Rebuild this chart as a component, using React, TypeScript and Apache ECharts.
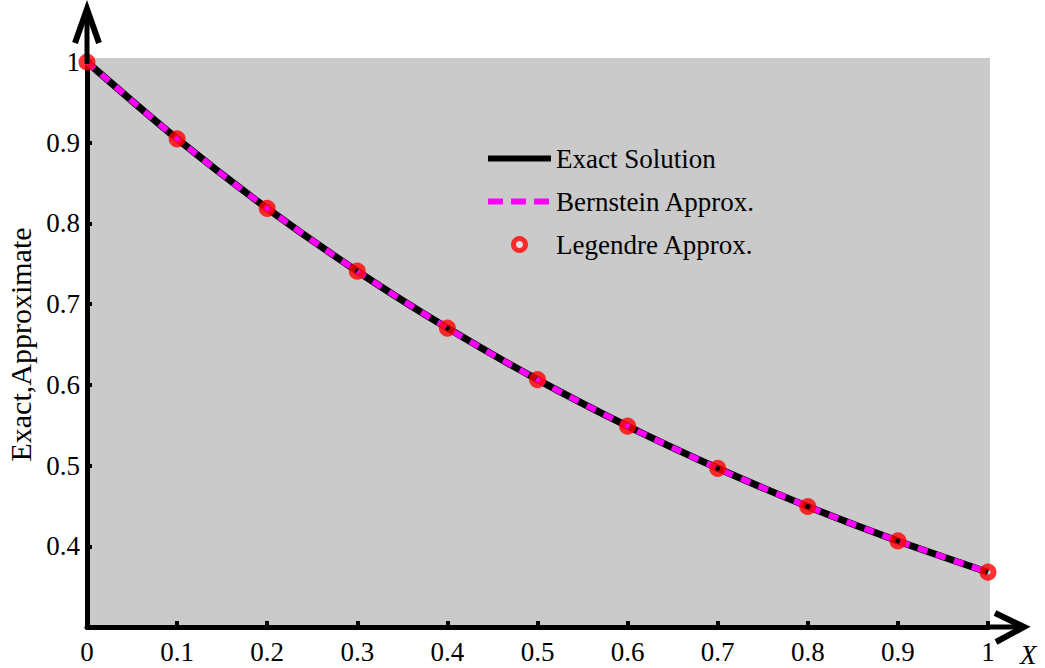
import React, { useEffect, useRef } from "react";
import * as echarts from "echarts";

// Sample points x = 0 .. 1 in steps of 0.1
const xValues = [0, 0.1, 0.2, 0.3, 0.4, 0.5, 0.6, 0.7, 0.8, 0.9, 1];
const exactValues = [1, 0.9048, 0.8187, 0.7408, 0.6703, 0.6065, 0.5488, 0.4966, 0.4493, 0.4066, 0.3679];
const bernsteinValues = [1, 0.9048, 0.8187, 0.7408, 0.6703, 0.6065, 0.5488, 0.4966, 0.4493, 0.4066, 0.3679];
const legendreValues = [1, 0.9048, 0.8187, 0.7408, 0.6703, 0.6065, 0.5488, 0.4966, 0.4493, 0.4066, 0.3679];

const seriesNames = ["Exact Solution", "Bernstein Approx.", "Legendre Approx."];
const xAxisName = "X";
const yAxisName = "Exact,Approximate";

const SERIF = "'Liberation Serif', 'Times New Roman', serif";

const pairs = (ys: number[]) => xValues.map((x, i) => [x, ys[i]]);

const hiddenSymbol = { color: "rgba(0,0,0,0)", borderWidth: 0, opacity: 0 };

export default function App() {
  const ref = useRef<HTMLDivElement>(null);

  useEffect(() => {
    document.body.style.margin = "0";
    if (!ref.current) return;
    const chart = echarts.init(ref.current, undefined, { renderer: "svg" });

    const option: any = {
      animation: false,
      backgroundColor: "#ffffff",
      grid: {
        left: 87,
        right: 57,
        top: 62,
        bottom: 41,
        containLabel: false,
        outerBoundsMode: "none",
      },
      graphic: [
        // plot background
        {
          type: "rect",
          z: -10,
          shape: { x: 87, y: 58, width: 903, height: 569 },
          style: { fill: "#cacaca" },
        },
        // y-axis extension and arrow head
        {
          type: "line",
          z: 10,
          shape: { x1: 87, y1: 64, x2: 87, y2: 10 },
          style: { stroke: "#000", lineWidth: 5 },
        },
        {
          type: "polyline",
          z: 10,
          shape: { points: [[75, 43], [87, 9], [99, 43]] },
          style: { stroke: "#000", lineWidth: 6, fill: null, lineJoin: "miter" },
        },
        // x-axis extension and arrow head
        {
          type: "line",
          z: 10,
          shape: { x1: 986, y1: 627, x2: 1020, y2: 627 },
          style: { stroke: "#000", lineWidth: 5 },
        },
        {
          type: "polyline",
          z: 10,
          shape: { points: [[995, 613], [1024, 627], [996, 642]] },
          style: { stroke: "#000", lineWidth: 6, fill: null, lineJoin: "miter" },
        },
      ],
      legend: {
        orient: "vertical",
        left: 485,
        top: 145,
        padding: 0,
        itemWidth: 63,
        itemHeight: 12,
        itemGap: 16,
        textStyle: { fontFamily: SERIF, fontSize: 27, lineHeight: 27, color: "#000" },
        data: [
          {
            name: seriesNames[0],
            itemStyle: hiddenSymbol,
            lineStyle: { color: "#000", width: 6, type: "solid" },
          },
          {
            name: seriesNames[1],
            itemStyle: hiddenSymbol,
            lineStyle: { color: "#ff00ff", width: 6, type: [15, 8] },
          },
          {
            name: seriesNames[2],
            icon: "circle",
            itemStyle: { color: "#e6e6e6", borderColor: "#ff0000", borderWidth: 5 },
          },
        ],
      },
      xAxis: {
        type: "value",
        min: 0,
        max: 1,
        interval: 0.1,
        name: xAxisName,
        nameLocation: "end",
        nameGap: 32,
        nameTextStyle: {
          fontFamily: SERIF,
          fontSize: 27,
          fontStyle: "italic",
          color: "#000",
          align: "left",
          verticalAlign: "top",
          padding: [14, 0, 0, 0],
        },
        axisLine: { show: true, lineStyle: { color: "#000", width: 5 } },
        axisTick: { show: true, inside: true, length: 6, lineStyle: { color: "#000", width: 4 } },
        axisLabel: { fontFamily: SERIF, fontSize: 27, color: "#000", margin: 11 },
        splitLine: { show: false },
      },
      yAxis: {
        type: "value",
        min: 0.3,
        max: 1,
        interval: 0.1,
        name: yAxisName,
        nameLocation: "middle",
        nameRotate: 90,
        nameGap: 52,
        nameTextStyle: { fontFamily: SERIF, fontSize: 30, color: "#000" },
        axisLine: { show: true, lineStyle: { color: "#000", width: 5 } },
        axisTick: { show: true, inside: true, length: 5, lineStyle: { color: "#000", width: 4 } },
        axisLabel: {
          fontFamily: SERIF,
          fontSize: 27,
          color: "#000",
          margin: 7,
          formatter: (v: number) => (v < 0.35 ? "" : String(Math.round(v * 10) / 10)),
        },
        splitLine: { show: false },
      },
      series: [
        {
          name: seriesNames[0],
          type: "line",
          data: pairs(exactValues),
          smooth: 0.3,
          symbol: "none",
          z: 2,
          lineStyle: { color: "#000", width: 7 },
          itemStyle: { color: "#000" },
        },
        {
          name: seriesNames[1],
          type: "line",
          data: pairs(bernsteinValues),
          smooth: 0.3,
          symbol: "none",
          z: 3,
          lineStyle: { color: "#ff00ff", width: 6, type: [10, 9] },
          itemStyle: { color: "#ff00ff" },
        },
        {
          name: seriesNames[2],
          type: "scatter",
          data: pairs(legendreValues),
          symbol: "circle",
          symbolSize: 11,
          z: 4,
          itemStyle: { color: "rgba(0,0,0,0)", borderColor: "#ff0000", borderWidth: 6 },
        },
      ],
    };

    chart.setOption(option);
    return () => chart.dispose();
  }, []);

  return <div ref={ref} style={{ width: 1045, height: 668 }} />;
}
